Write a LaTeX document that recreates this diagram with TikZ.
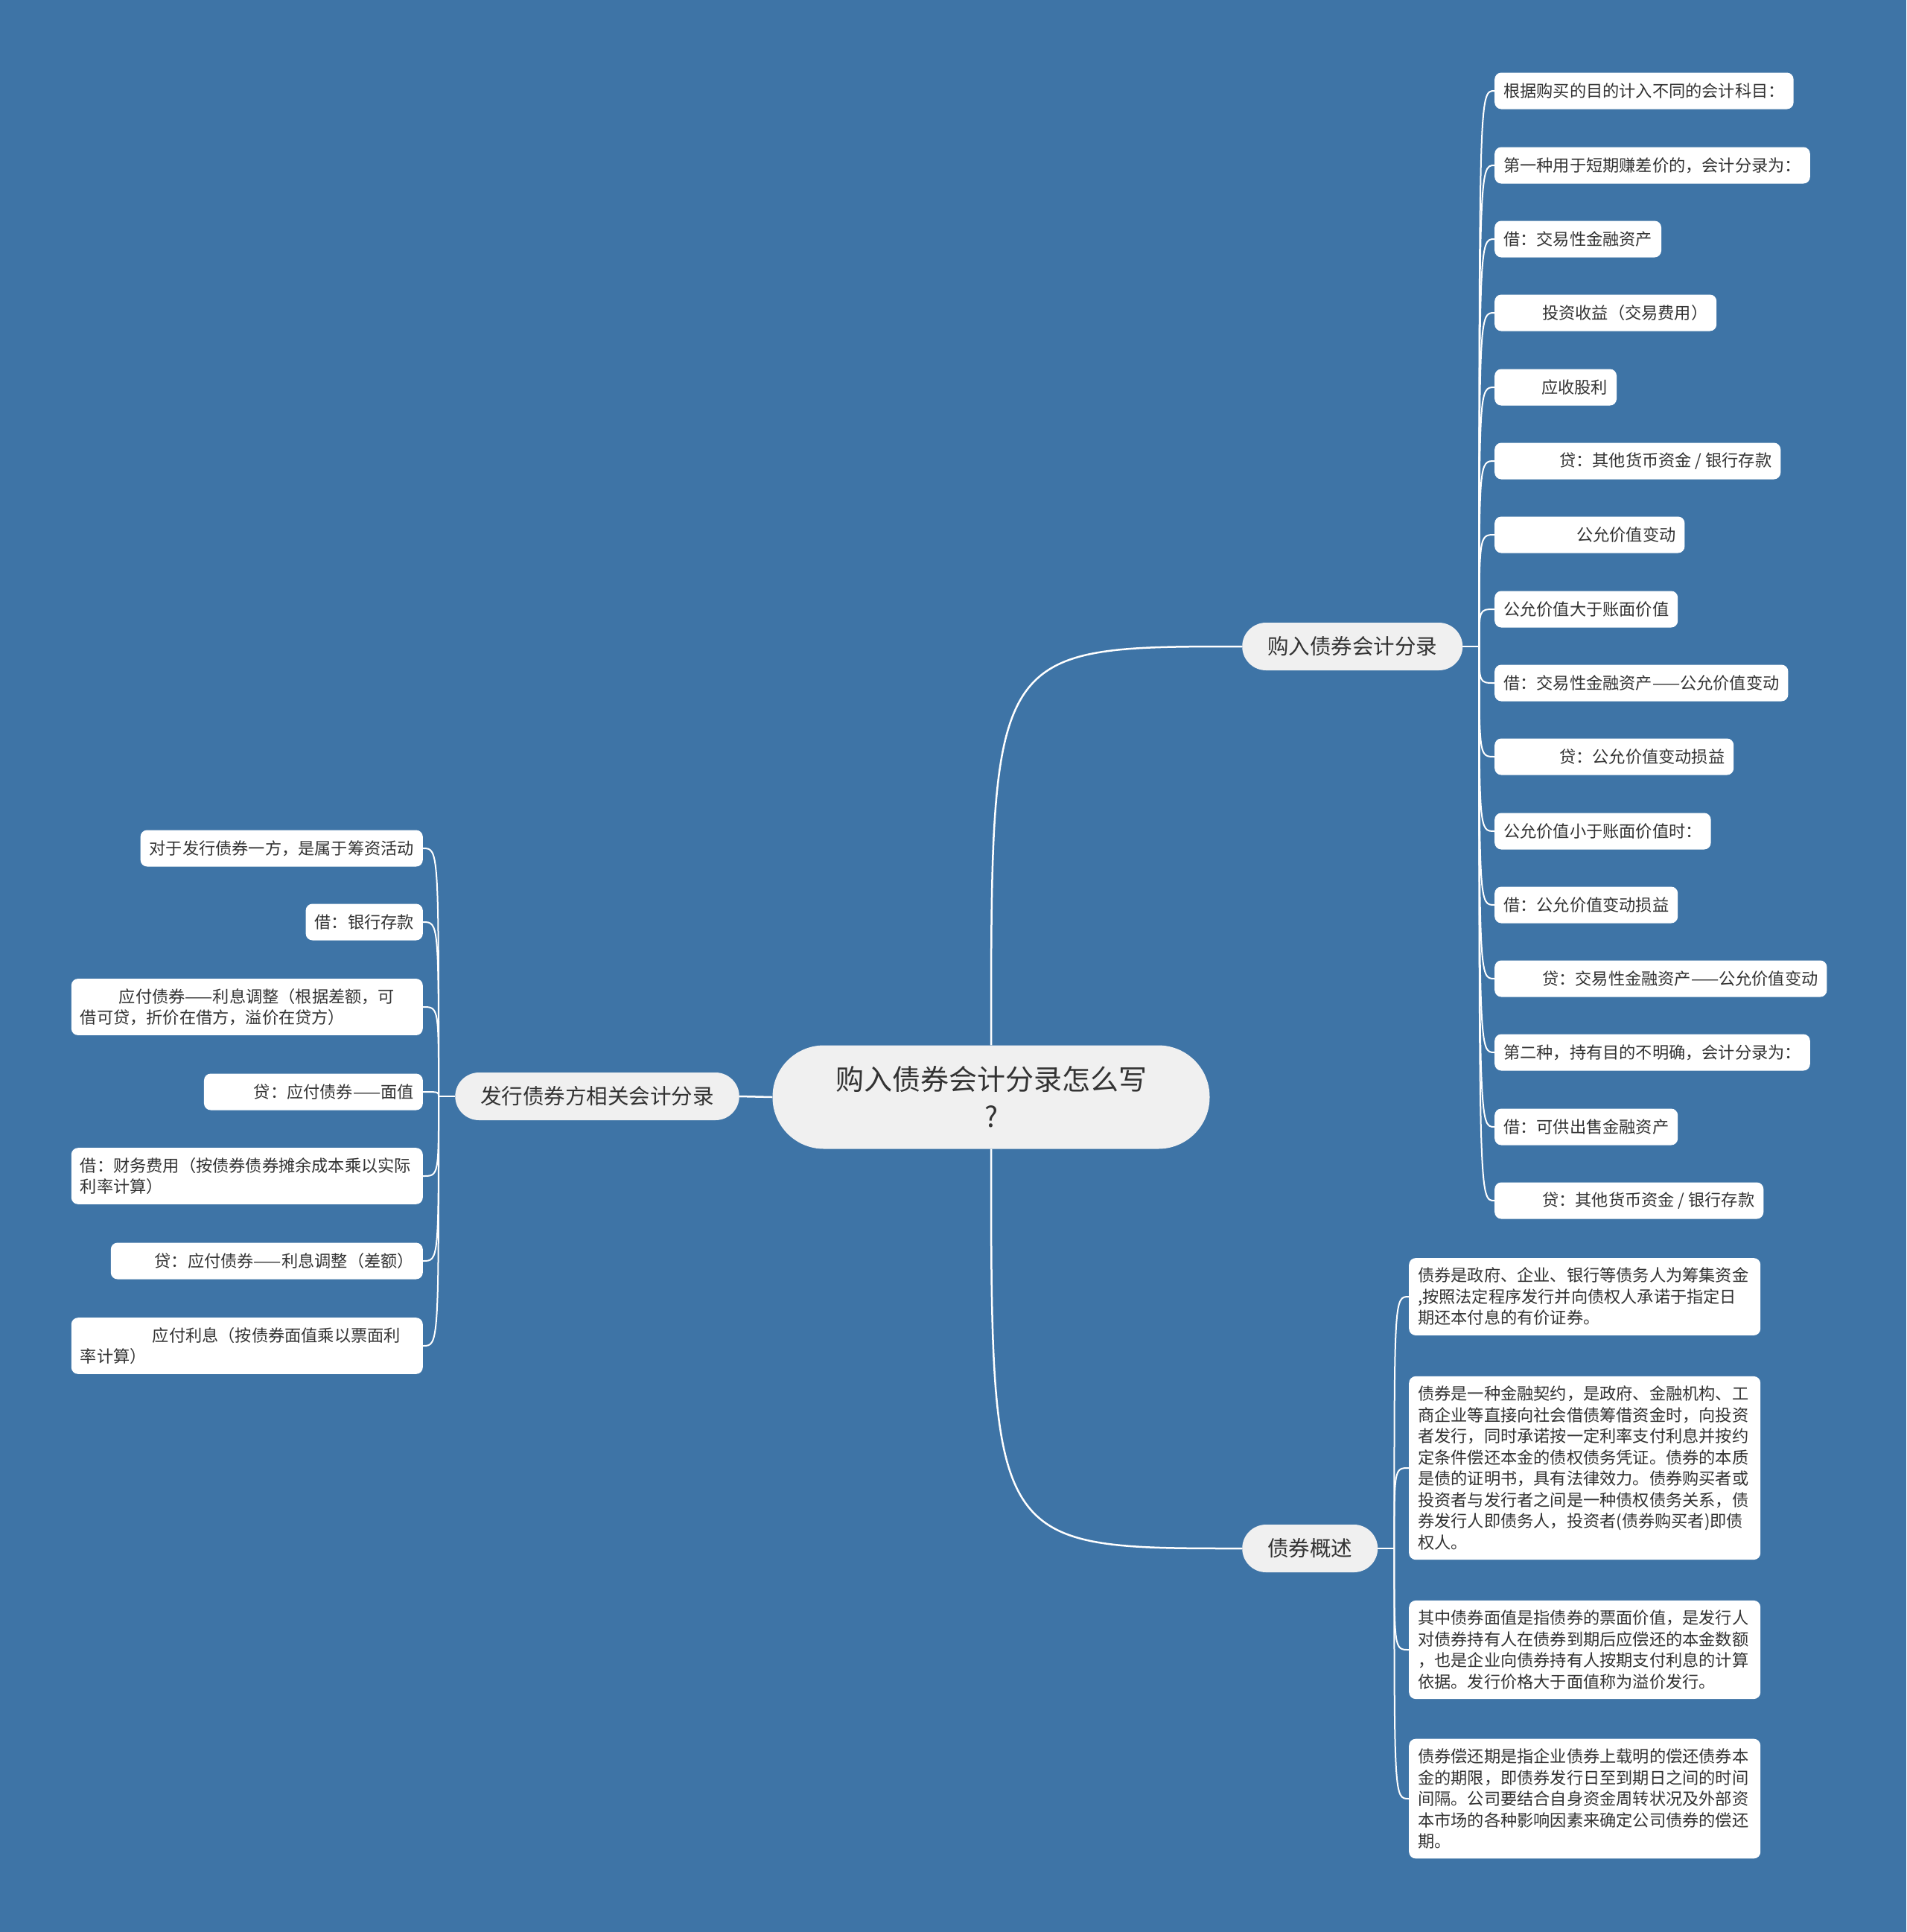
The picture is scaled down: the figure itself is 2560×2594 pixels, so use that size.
\documentclass[tikz,border=0pt]{standalone}
\usepackage{fontspec}
\setmainfont{Noto Sans CJK SC}
\usetikzlibrary{backgrounds}

\definecolor{fond}{RGB}{62,116,166}
\definecolor{texte}{RGB}{51,51,51}
\definecolor{bulle}{RGB}{240,240,240}

\begin{document}
\begin{tikzpicture}[
    x=1pt, y=-1pt,
    racine/.style={fill=bulle, text=texte, rounded corners=69pt, minimum width=587pt, minimum height=139pt, align=center, font=\fontsize{38}{50}\selectfont},
    branche/.style={fill=bulle, text=texte, rounded corners=32pt, inner xsep=34pt, minimum height=64pt, font=\fontsize{28.5}{34}\selectfont},
    feuille/.style={fill=white, text=texte, rounded corners=9pt, inner xsep=12pt, inner ysep=13pt, minimum height=49pt, align=left, font=\fontsize{22.2}{28.5}\selectfont},
    bloc/.style={feuille, text width=448pt},
    lien/.style={white, line width=2.5pt},
    lienf/.style={white, line width=2pt}
]

\useasboundingbox (0,0) rectangle (2560,2594);

% Noeud central
\node[racine] (R) at (1331,1473) {购入债券会计分录怎么写\\?};

% Les trois branches
\node[branche, anchor=west] (A) at (1668,868) {购入债券会计分录};
\node[branche, anchor=west] (B) at (1668,2079) {债券概述};
\node[branche, anchor=east] (C) at (993,1472) {发行债券方相关会计分录};

% Feuilles de la branche A (droite, en haut)
\node[feuille, anchor=west] (A1) at (2007,122) {根据购买的目的计入不同的会计科目：};
\node[feuille, anchor=west] (A2) at (2007,222) {第一种用于短期赚差价的，会计分录为：};
\node[feuille, anchor=west] (A3) at (2007,321) {借：交易性金融资产};
\node[feuille, anchor=west] (A4) at (2007,420) {\hspace*{52pt}投资收益（交易费用）};
\node[feuille, anchor=west] (A5) at (2007,520) {\hspace*{51pt}应收股利};
\node[feuille, anchor=west] (A6) at (2007,619) {\hspace*{75pt}贷：其他货币资金 / 银行存款};
\node[feuille, anchor=west] (A7) at (2007,718) {\hspace*{98pt}公允价值变动};
\node[feuille, anchor=west] (A8) at (2007,818) {公允价值大于账面价值};
\node[feuille, anchor=west] (A9) at (2007,917) {借：交易性金融资产——公允价值变动};
\node[feuille, anchor=west] (A10) at (2007,1016) {\hspace*{75pt}贷：公允价值变动损益};
\node[feuille, anchor=west] (A11) at (2007,1116) {公允价值小于账面价值时：};
\node[feuille, anchor=west] (A12) at (2007,1215) {借：公允价值变动损益};
\node[feuille, anchor=west] (A13) at (2007,1314) {\hspace*{52pt}贷：交易性金融资产——公允价值变动};
\node[feuille, anchor=west] (A14) at (2007,1413) {第二种，持有目的不明确，会计分录为：};
\node[feuille, anchor=west] (A15) at (2007,1513) {借：可供出售金融资产};
\node[feuille, anchor=west] (A16) at (2007,1612) {\hspace*{52pt}贷：其他货币资金 / 银行存款};

% Feuilles de la branche B (droite, en bas)
\node[bloc, anchor=west] (B1) at (1892,1741) {债券是政府、企业、银行等债务人为筹集资金\\,按照法定程序发行并向债权人承诺于指定日\\期还本付息的有价证券。};
\node[bloc, anchor=west] (B2) at (1892,1971) {债券是一种金融契约，是政府、金融机构、工\\商企业等直接向社会借债筹借资金时，向投资\\者发行，同时承诺按一定利率支付利息并按约\\定条件偿还本金的债权债务凭证。债券的本质\\是债的证明书，具有法律效力。债券购买者或\\投资者与发行者之间是一种债权债务关系，债\\券发行人即债务人，投资者(债券购买者)即债\\权人。};
\node[bloc, anchor=west] (B3) at (1892,2215) {其中债券面值是指债券的票面价值，是发行人\\对债券持有人在债券到期后应偿还的本金数额\\，也是企业向债券持有人按期支付利息的计算\\依据。发行价格大于面值称为溢价发行。};
\node[bloc, anchor=west] (B4) at (1892,2415) {债券偿还期是指企业债券上载明的偿还债券本\\金的期限，即债券发行日至到期日之间的时间\\间隔。公司要结合自身资金周转状况及外部资\\本市场的各种影响因素来确定公司债券的偿还\\期。};

% Feuilles de la branche C (gauche)
\node[feuille, anchor=east] (C1) at (568,1139) {对于发行债券一方，是属于筹资活动};
\node[feuille, anchor=east] (C2) at (568,1238) {借：银行存款};
\node[bloc, anchor=east] (C3) at (568,1352) {\hspace*{52pt}应付债券——利息调整（根据差额，可\\借可贷，折价在借方，溢价在贷方）};
\node[feuille, anchor=east] (C4) at (568,1466) {\hspace*{55pt}贷：应付债券——面值};
\node[bloc, anchor=east] (C5) at (568,1579) {借：财务费用（按债券债券摊余成本乘以实际\\利率计算）};
\node[feuille, anchor=east] (C6) at (568,1693) {\hspace*{47pt}贷：应付债券——利息调整（差额）};
\node[bloc, anchor=east] (C7) at (568,1807) {\hspace*{97pt}应付利息（按债券面值乘以票面利\\率计算）};

% Points de depart des feuilles
\coordinate (Ah) at ([xshift=22pt]A.east);
\coordinate (Bh) at ([xshift=22pt]B.east);
\coordinate (Ch) at ([xshift=-22pt]C.west);

\begin{scope}[on background layer]
\fill[fond] (0,0) rectangle (2560,2594);

% Liens du centre vers les branches
\draw[lien] (R.north) .. controls (R.north |- A.west) .. (A.west);
\draw[lien] (R.south) .. controls (R.south |- B.west) .. (B.west);
\draw[lien] (R.west) -- (C.east);

% Liens vers les feuilles
\draw[lienf] (A.east) -- (Ah);
\draw[lienf] (B.east) -- (Bh);
\draw[lienf] (C.west) -- (Ch);
\foreach \f in {A1,A2,A3,A4,A5,A6,A7,A8,A9,A10,A11,A12,A13,A14,A15,A16}
    \draw[lienf] (Ah) .. controls (Ah |- \f.west) .. (\f.west);
\foreach \f in {B1,B2,B3,B4}
    \draw[lienf] (Bh) .. controls (Bh |- \f.west) .. (\f.west);
\foreach \f in {C1,C2,C3,C4,C5,C6,C7}
    \draw[lienf] (Ch) .. controls (Ch |- \f.east) .. (\f.east);
\end{scope}

\end{tikzpicture}
\end{document}
